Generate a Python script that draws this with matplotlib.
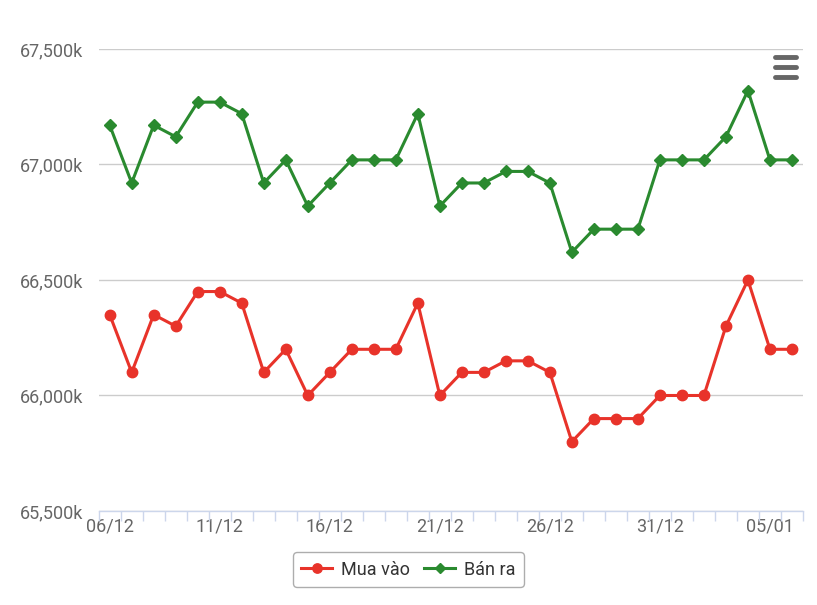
import numpy as np
import matplotlib.pyplot as plt
from matplotlib.lines import Line2D

# ==========================================================
# DATA (k VND)
# ==========================================================

dates = [
    "06/12", "07/12", "08/12", "09/12", "10/12", "11/12", "12/12", "13/12",
    "14/12", "15/12", "16/12", "17/12", "18/12", "19/12", "20/12", "21/12",
    "22/12", "23/12", "24/12", "25/12", "26/12", "27/12", "28/12", "29/12",
    "30/12", "31/12", "01/01", "02/01", "03/01", "04/01", "05/01", "06/01",
]

mua_vao = [
    66350, 66100, 66350, 66300, 66450, 66450, 66400, 66100,
    66200, 66000, 66100, 66200, 66200, 66200, 66400, 66000,
    66100, 66100, 66150, 66150, 66100, 65800, 65900, 65900,
    65900, 66000, 66000, 66000, 66300, 66500, 66200, 66200,
]

ban_ra = [
    67170, 66920, 67170, 67120, 67270, 67270, 67220, 66920,
    67020, 66820, 66920, 67020, 67020, 67020, 67220, 66820,
    66920, 66920, 66970, 66970, 66920, 66620, 66720, 66720,
    66720, 67020, 67020, 67020, 67120, 67320, 67020, 67020,
]

y_ticks = [65500, 66000, 66500, 67000, 67500]

# ==========================================================
# PLOT
# ==========================================================

plt.rcParams["font.family"] = ["Roboto", "DejaVu Sans"]

red = "#e8332a"
green = "#2a8a2f"

fig = plt.figure(figsize=(8.17, 6.05), dpi=100)
ax = fig.add_axes([0.1208, 0.1554, 0.862, 0.7636])

x = np.arange(len(dates))

ax.plot(x, mua_vao, color=red, lw=2.2, marker="o", ms=7.5,
        label="Mua vào", zorder=3)
ax.plot(x, ban_ra, color=green, lw=2.2, marker="D", ms=6,
        label="Bán ra", zorder=3)

ax.set_xlim(-0.5, len(dates) - 0.5)
ax.set_ylim(65500, 67500)

ax.set_yticks(y_ticks)
ax.set_yticklabels([f"{v:,}k" for v in y_ticks])
ax.grid(axis="y", color="#cccccc", lw=1)
ax.set_axisbelow(True)

# labels every 5 days, tick marks between categories
label_pos = x[::5]
ax.set_xticks(label_pos)
ax.set_xticklabels([dates[i] for i in label_pos])
ax.set_xticks(np.arange(len(dates) + 1) - 0.5, minor=True)
ax.tick_params(axis="x", which="major", length=0, pad=5,
               labelsize=13, labelcolor="#666666")
ax.tick_params(axis="x", which="minor", length=7, width=1,
               color="#ccd6eb")
ax.tick_params(axis="y", length=0, pad=11,
               labelsize=13, labelcolor="#666666")

for s in ["top", "right", "left"]:
    ax.spines[s].set_visible(False)
ax.spines["bottom"].set_color("#ccd6eb")
ax.spines["bottom"].set_linewidth(1)

leg = fig.legend(loc="center", bbox_to_anchor=(0.5, 0.0585), ncol=2,
                 frameon=True, fancybox=True, fontsize=13,
                 handlelength=1.7, handletextpad=0.5, columnspacing=0.8,
                 borderpad=0.45, markerscale=0.9)
leg.get_frame().set_edgecolor("#999999")
leg.get_frame().set_linewidth(1)
for t in leg.get_texts():
    t.set_color("#333333")

# menu icon
for yy in [57, 67, 77]:
    fig.add_artist(Line2D([775 / 817, 796 / 817],
                          [1 - yy / 605, 1 - yy / 605],
                          color="#666666", lw=3.5,
                          solid_capstyle="round"))

fig.savefig("out.png", dpi=100)
